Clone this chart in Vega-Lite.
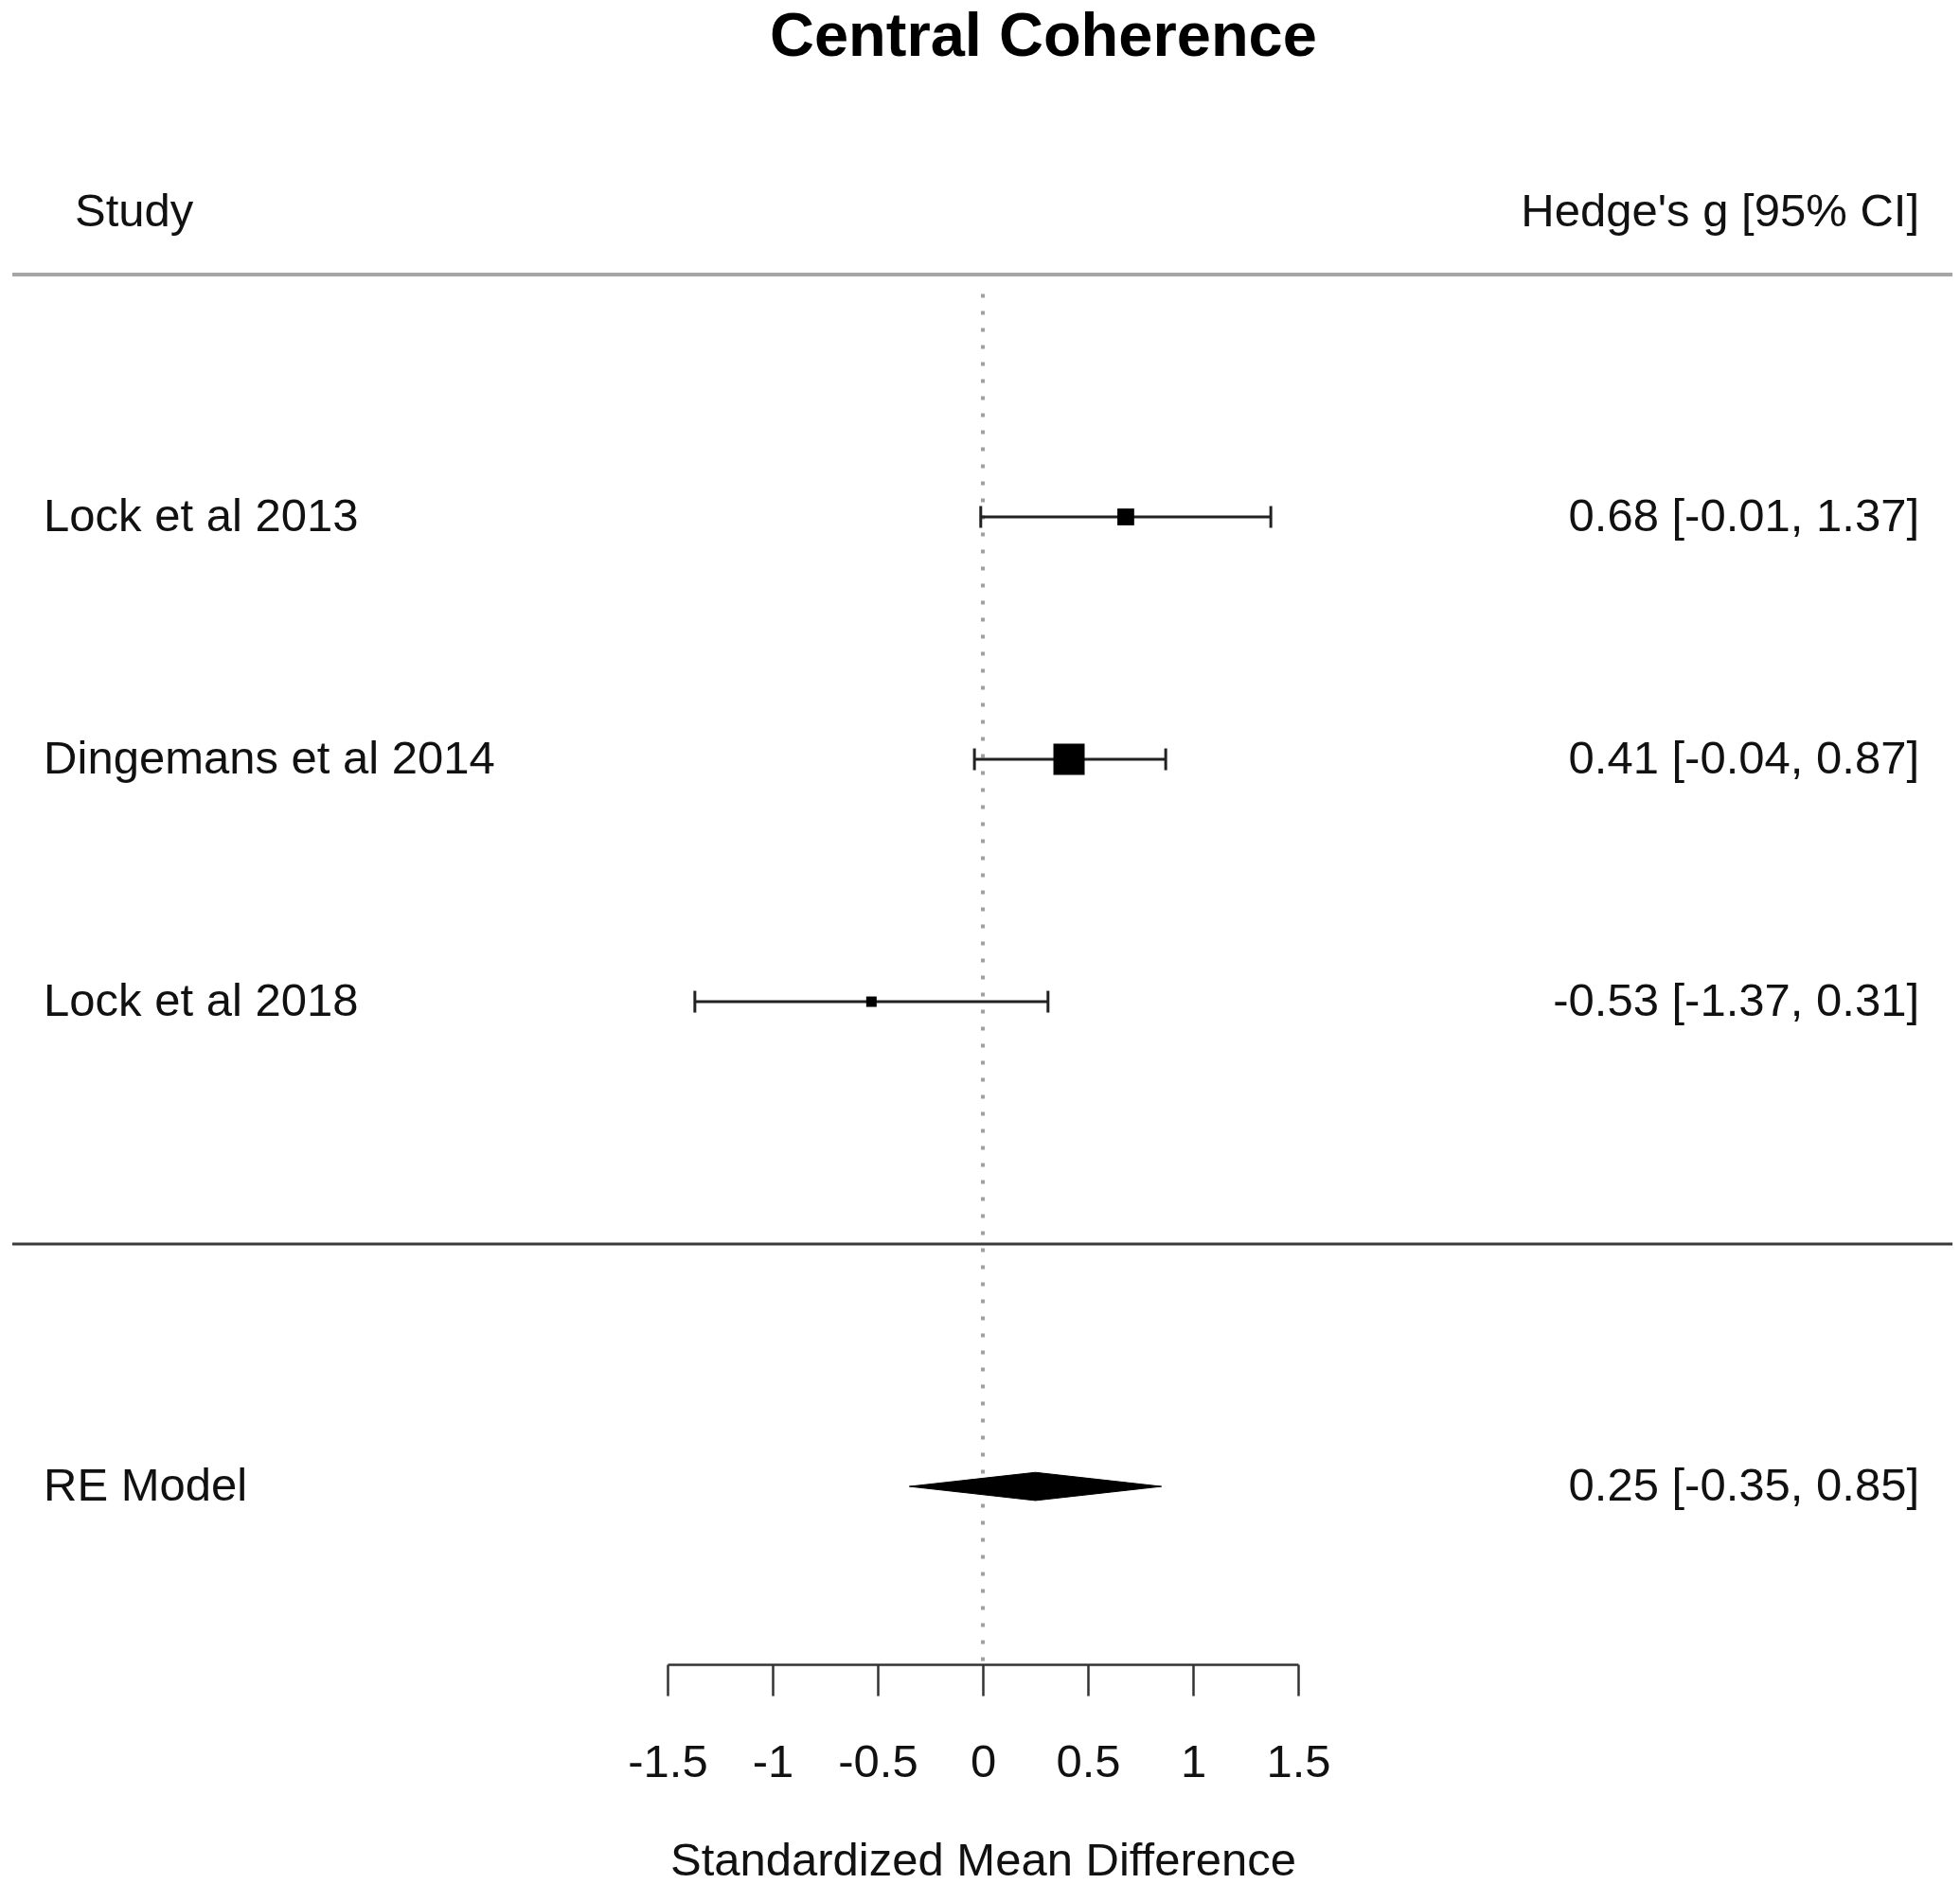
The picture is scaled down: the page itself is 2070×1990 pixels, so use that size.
{
  "$schema": "https://vega.github.io/schema/vega-lite/v6.json",
  "autosize": {"type": "none"},
  "width": 666,
  "height": 1468,
  "padding": {"left": 705, "top": 290, "right": 699, "bottom": 232},
  "background": "white",
  "config": {
    "view": {"stroke": null},
    "font": "Liberation Sans",
    "text": {"font": "Liberation Sans", "fontSize": 49, "color": "#111"}
  },
  "datasets": {
    "studies": [
      {"study": "Lock et al 2013", "row": 3, "g": 0.68, "lower": -0.01, "upper": 1.37, "label": "0.68 [-0.01, 1.37]", "precision": 2.84},
      {"study": "Dingemans et al 2014", "row": 2, "g": 0.41, "lower": -0.04, "upper": 0.87, "label": "0.41 [-0.04, 0.87]", "precision": 4.31},
      {"study": "Lock et al 2018", "row": 1, "g": -0.53, "lower": -1.37, "upper": 0.31, "label": "-0.53 [-1.37, 0.31]", "precision": 2.33}
    ],
    "allrows": [
      {"study": "Lock et al 2013", "row": 3, "label": "0.68 [-0.01, 1.37]"},
      {"study": "Dingemans et al 2014", "row": 2, "label": "0.41 [-0.04, 0.87]"},
      {"study": "Lock et al 2018", "row": 1, "label": "-0.53 [-1.37, 0.31]"},
      {"study": "RE Model", "row": -1, "label": "0.25 [-0.35, 0.85]"}
    ],
    "diamond": [
      {"x": -0.35, "y": -1, "o": 1},
      {"x": 0.25, "y": -0.942, "o": 2},
      {"x": 0.85, "y": -1, "o": 3},
      {"x": 0.25, "y": -1.058, "o": 4},
      {"x": -0.35, "y": -1, "o": 5}
    ],
    "one": [{"k": 1}]
  },
  "layer": [
    {
      "data": {"name": "one"},
      "mark": {"type": "rule", "color": "#a6a6a6", "strokeWidth": 4},
      "encoding": {
        "x": {"datum": -4.617, "type": "quantitative", "scale": {"domain": [-1.5, 1.5], "nice": false, "zero": false},
          "axis": {
            "values": [-1.5, -1, -0.5, 0, 0.5, 1, 1.5],
            "labelExpr": "'' + datum.value",
            "title": "Standardized Mean Difference",
            "grid": false,
            "domainColor": "#333", "domainWidth": 2.5,
            "tickColor": "#333", "tickWidth": 2.5, "tickSize": 33,
            "labelFont": "Liberation Sans", "labelFontSize": 49, "labelColor": "#111",
            "labelPadding": 46, "labelFlush": false, "labelOverlap": false,
            "titleFont": "Liberation Sans", "titleFontSize": 49, "titleFontWeight": "normal", "titleColor": "#111",
            "titlePadding": 55
          }},
        "x2": {"datum": 4.613},
        "y": {"datum": 4, "type": "quantitative", "scale": {"domain": [-1.734, 4], "nice": false, "zero": false}, "axis": null}
      }
    },
    {
      "data": {"name": "one"},
      "mark": {"type": "rule", "color": "#3a3a3a", "strokeWidth": 3},
      "encoding": {
        "x": {"datum": -4.617, "type": "quantitative"},
        "x2": {"datum": 4.613},
        "y": {"datum": 0, "type": "quantitative"}
      }
    },
    {
      "data": {"name": "one"},
      "mark": {"type": "rule", "color": "#a0a0a0", "strokeWidth": 4, "strokeDash": [4, 14]},
      "encoding": {
        "x": {"datum": 0, "type": "quantitative"},
        "y": {"datum": -1.72, "type": "quantitative"},
        "y2": {"datum": 3.97}
      }
    },
    {
      "data": {"name": "studies"},
      "mark": {"type": "rule", "color": "#222", "strokeWidth": 3},
      "encoding": {
        "x": {"field": "lower", "type": "quantitative"},
        "x2": {"field": "upper"},
        "y": {"field": "row", "type": "quantitative"}
      }
    },
    {
      "data": {"name": "studies"},
      "mark": {"type": "point", "shape": "M0,-1L0,1", "filled": false, "stroke": "#222", "strokeWidth": 3, "size": 529, "opacity": 1},
      "encoding": {
        "x": {"field": "lower", "type": "quantitative"},
        "y": {"field": "row", "type": "quantitative"}
      }
    },
    {
      "data": {"name": "studies"},
      "mark": {"type": "point", "shape": "M0,-1L0,1", "filled": false, "stroke": "#222", "strokeWidth": 3, "size": 529, "opacity": 1},
      "encoding": {
        "x": {"field": "upper", "type": "quantitative"},
        "y": {"field": "row", "type": "quantitative"}
      }
    },
    {
      "data": {"name": "studies"},
      "mark": {"type": "point", "shape": "square", "filled": true, "color": "#000", "opacity": 1},
      "encoding": {
        "x": {"field": "g", "type": "quantitative"},
        "y": {"field": "row", "type": "quantitative"},
        "size": {"field": "precision", "type": "quantitative", "scale": {"type": "pow", "exponent": 2, "domain": [2.33, 4.31], "range": [121, 1089], "zero": false}, "legend": null}
      }
    },
    {
      "data": {"name": "diamond"},
      "mark": {"type": "line", "color": "#000", "fill": "#000", "strokeWidth": 1, "interpolate": "linear"},
      "encoding": {
        "x": {"field": "x", "type": "quantitative"},
        "y": {"field": "y", "type": "quantitative"},
        "order": {"field": "o", "type": "quantitative"}
      }
    },
    {
      "data": {"name": "allrows"},
      "mark": {"type": "text", "align": "left", "baseline": "middle"},
      "encoding": {
        "x": {"datum": -4.468, "type": "quantitative"},
        "y": {"field": "row", "type": "quantitative"},
        "text": {"field": "study"}
      }
    },
    {
      "data": {"name": "allrows"},
      "mark": {"type": "text", "align": "right", "baseline": "middle"},
      "encoding": {
        "x": {"datum": 4.455, "type": "quantitative"},
        "y": {"field": "row", "type": "quantitative"},
        "text": {"field": "label"}
      }
    },
    {
      "data": {"name": "one"},
      "mark": {"type": "text", "align": "left", "baseline": "middle", "text": "Study"},
      "encoding": {
        "x": {"datum": -4.32, "type": "quantitative"},
        "y": {"datum": 4.258, "type": "quantitative"}
      }
    },
    {
      "data": {"name": "one"},
      "mark": {"type": "text", "align": "right", "baseline": "middle", "text": "Hedge's g [95% CI]"},
      "encoding": {
        "x": {"datum": 4.455, "type": "quantitative"},
        "y": {"datum": 4.258, "type": "quantitative"}
      }
    },
    {
      "data": {"name": "one"},
      "mark": {"type": "text", "align": "center", "baseline": "middle", "text": "Central Coherence", "fontSize": 65, "fontWeight": "bold", "color": "#000"},
      "encoding": {
        "x": {"datum": 0.288, "type": "quantitative"},
        "y": {"datum": 4.98, "type": "quantitative"}
      }
    }
  ]
}
